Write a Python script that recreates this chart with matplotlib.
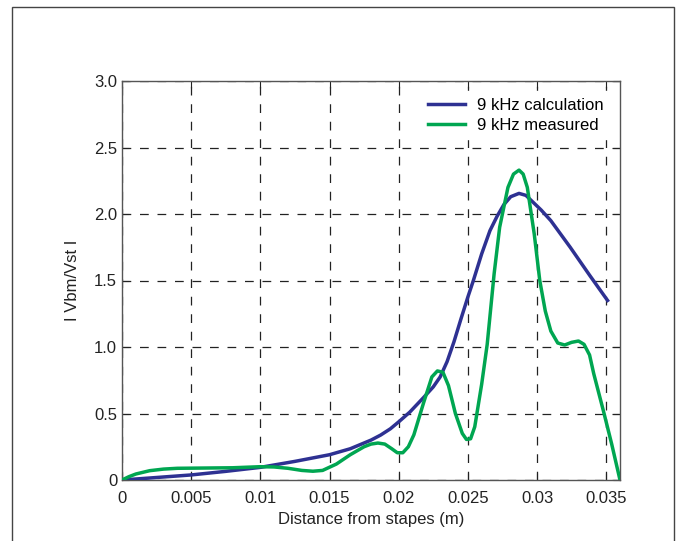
import matplotlib.pyplot as plt
from matplotlib.patches import Rectangle

plt.rcParams['font.family'] = ['Liberation Sans', 'DejaVu Sans']

# 9 kHz calculated response along the basilar membrane
x_calc = [0, 0.002, 0.005, 0.0075, 0.01, 0.0125, 0.015, 0.0165, 0.018, 0.0187,
          0.0194, 0.02, 0.0208, 0.0218, 0.0225, 0.023, 0.0235, 0.024, 0.0245,
          0.025, 0.0254, 0.026, 0.0266, 0.0271, 0.0276, 0.0281, 0.0287,
          0.0292, 0.0297, 0.0303, 0.031, 0.0324, 0.0338, 0.0351]
y_calc = [0, 0.015, 0.038, 0.065, 0.095, 0.14, 0.19, 0.235, 0.30, 0.338,
          0.385, 0.437, 0.51, 0.62, 0.70, 0.775, 0.89, 1.04, 1.21,
          1.375, 1.5, 1.7, 1.875, 1.98, 2.07, 2.13, 2.155,
          2.14, 2.09, 2.03, 1.95, 1.75, 1.54, 1.35]

# 9 kHz measured response
x_meas = [0, 0.0005, 0.001, 0.002, 0.003, 0.004, 0.006, 0.008, 0.01, 0.011,
          0.012, 0.013, 0.0138, 0.0145, 0.0155, 0.0165, 0.0175, 0.018, 0.0185,
          0.019, 0.0195, 0.0199, 0.0203, 0.0207, 0.0211, 0.0218, 0.0224,
          0.0228, 0.0232, 0.0236, 0.0241, 0.0246, 0.0249, 0.0252, 0.0255,
          0.026, 0.0264, 0.0269, 0.0273, 0.0279, 0.0283, 0.0287, 0.029,
          0.0293, 0.0298, 0.0302, 0.0306, 0.031, 0.0315, 0.032, 0.0325,
          0.033, 0.0334, 0.0338, 0.0341, 0.0348, 0.0354, 0.036]
y_meas = [0, 0.025, 0.045, 0.07, 0.082, 0.088, 0.09, 0.092, 0.1, 0.098,
          0.088, 0.072, 0.066, 0.072, 0.12, 0.19, 0.25, 0.27, 0.278,
          0.27, 0.235, 0.205, 0.205, 0.25, 0.34, 0.58, 0.775,
          0.82, 0.81, 0.71, 0.5, 0.35, 0.305, 0.31, 0.40,
          0.72, 1.02, 1.55, 1.9, 2.2, 2.3, 2.33, 2.3,
          2.2, 1.85, 1.5, 1.27, 1.12, 1.03, 1.015, 1.035,
          1.045, 1.02, 0.94, 0.80, 0.52, 0.27, 0.0]

xticks = [0, 0.005, 0.01, 0.015, 0.02, 0.025, 0.03, 0.035]
xtick_labels = ['0', '0.005', '0.01', '0.015', '0.02', '0.025', '0.03', '0.035']
yticks = [0, 0.5, 1.0, 1.5, 2.0, 2.5, 3.0]
ytick_labels = ['0', '0.5', '1.0', '1.5', '2.0', '2.5', '3.0']

fig = plt.figure(figsize=(6.82, 5.41), dpi=100)
fig.patches.append(Rectangle((12 / 682, -0.1), 662 / 682, 1.1 - 7 / 541,
                             transform=fig.transFigure, fill=False,
                             edgecolor='#444444', linewidth=1.0))

ax = fig.add_axes([122 / 682, 1 - 480 / 541, 498 / 682, 399 / 541])
ax.plot(x_calc, y_calc, color='#2e3192', lw=2.5, label='9 kHz calculation',
        zorder=3, solid_joinstyle='round')
ax.plot(x_meas, y_meas, color='#00a651', lw=2.5, label='9 kHz measured',
        zorder=4, solid_joinstyle='round')

ax.set_xlim(0, 0.036)
ax.set_ylim(0, 3.0)
ax.set_xticks(xticks)
ax.set_xticklabels(xtick_labels)
ax.set_yticks(yticks)
ax.set_yticklabels(ytick_labels)
ax.tick_params(direction='in', top=True, right=True, length=5, width=0.8,
               labelsize=12, colors='#222222')
ax.tick_params(axis='x', pad=8)
ax.grid(True, color='#222222', linestyle=(0, (7, 7)), linewidth=0.9)
for s in ax.spines.values():
    s.set_color('#555555')
    s.set_linewidth(1.0)

ax.set_xlabel('Distance from stapes (m)', fontsize=12, color='#222222', labelpad=4)
ax.set_ylabel('I Vbm/Vst I', fontsize=12, color='#222222', labelpad=10)

leg = ax.legend(loc='upper right', frameon=True, fontsize=12, handlelength=2.2,
                borderaxespad=0.6, labelspacing=0.3, handletextpad=0.7,
                fancybox=False)
leg.get_frame().set_facecolor('white')
leg.get_frame().set_edgecolor('white')
leg.get_frame().set_alpha(1.0)

fig.savefig('out.png', dpi=100)
